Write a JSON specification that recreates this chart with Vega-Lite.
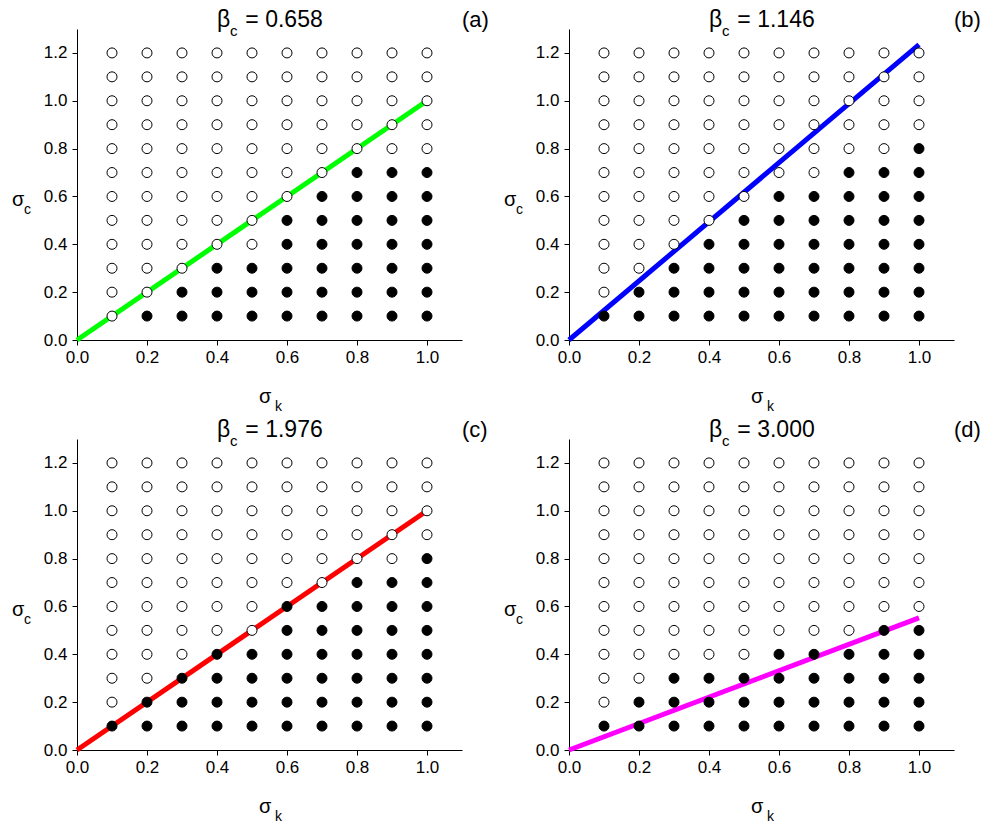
{
  "$schema": "https://vega.github.io/schema/vega-lite/v6.json",
  "autosize": {"type": "pad"},
  "padding": {"left": 12, "top": 9, "right": 5, "bottom": 3},
  "background": "white",
  "config": {
    "view": {"stroke": null},
    "font": "Liberation Sans",
    "header": {"labels": false, "title": null, "labelFontSize": 0, "labelPadding": 0, "titlePadding": 0, "labelExpr": "''"},
    "facet": {"spacing": 0},
    "axis": {
      "domainColor": "black", "domainWidth": 1,
      "tickColor": "black", "tickWidth": 1, "tickSize": 5,
      "labelColor": "black", "labelFont": "Liberation Sans", "labelFontSize": 17,
      "grid": false, "labelOverlap": false, "labelFlush": false
    },
    "text": {"font": "Liberation Sans", "color": "black"}
  },
  "data": {"values": [
    {"p":"a","k":0.1,"c":0.1,"s":0},{"p":"a","k":0.1,"c":0.2,"s":0},{"p":"a","k":0.1,"c":0.3,"s":0},{"p":"a","k":0.1,"c":0.4,"s":0},{"p":"a","k":0.1,"c":0.5,"s":0},{"p":"a","k":0.1,"c":0.6,"s":0},{"p":"a","k":0.1,"c":0.7,"s":0},{"p":"a","k":0.1,"c":0.8,"s":0},{"p":"a","k":0.1,"c":0.9,"s":0},{"p":"a","k":0.1,"c":1.0,"s":0},{"p":"a","k":0.1,"c":1.1,"s":0},{"p":"a","k":0.1,"c":1.2,"s":0},
    {"p":"a","k":0.2,"c":0.1,"s":1},{"p":"a","k":0.2,"c":0.2,"s":0},{"p":"a","k":0.2,"c":0.3,"s":0},{"p":"a","k":0.2,"c":0.4,"s":0},{"p":"a","k":0.2,"c":0.5,"s":0},{"p":"a","k":0.2,"c":0.6,"s":0},{"p":"a","k":0.2,"c":0.7,"s":0},{"p":"a","k":0.2,"c":0.8,"s":0},{"p":"a","k":0.2,"c":0.9,"s":0},{"p":"a","k":0.2,"c":1.0,"s":0},{"p":"a","k":0.2,"c":1.1,"s":0},{"p":"a","k":0.2,"c":1.2,"s":0},
    {"p":"a","k":0.3,"c":0.1,"s":1},{"p":"a","k":0.3,"c":0.2,"s":1},{"p":"a","k":0.3,"c":0.3,"s":0},{"p":"a","k":0.3,"c":0.4,"s":0},{"p":"a","k":0.3,"c":0.5,"s":0},{"p":"a","k":0.3,"c":0.6,"s":0},{"p":"a","k":0.3,"c":0.7,"s":0},{"p":"a","k":0.3,"c":0.8,"s":0},{"p":"a","k":0.3,"c":0.9,"s":0},{"p":"a","k":0.3,"c":1.0,"s":0},{"p":"a","k":0.3,"c":1.1,"s":0},{"p":"a","k":0.3,"c":1.2,"s":0},
    {"p":"a","k":0.4,"c":0.1,"s":1},{"p":"a","k":0.4,"c":0.2,"s":1},{"p":"a","k":0.4,"c":0.3,"s":1},{"p":"a","k":0.4,"c":0.4,"s":0},{"p":"a","k":0.4,"c":0.5,"s":0},{"p":"a","k":0.4,"c":0.6,"s":0},{"p":"a","k":0.4,"c":0.7,"s":0},{"p":"a","k":0.4,"c":0.8,"s":0},{"p":"a","k":0.4,"c":0.9,"s":0},{"p":"a","k":0.4,"c":1.0,"s":0},{"p":"a","k":0.4,"c":1.1,"s":0},{"p":"a","k":0.4,"c":1.2,"s":0},
    {"p":"a","k":0.5,"c":0.1,"s":1},{"p":"a","k":0.5,"c":0.2,"s":1},{"p":"a","k":0.5,"c":0.3,"s":1},{"p":"a","k":0.5,"c":0.4,"s":0},{"p":"a","k":0.5,"c":0.5,"s":0},{"p":"a","k":0.5,"c":0.6,"s":0},{"p":"a","k":0.5,"c":0.7,"s":0},{"p":"a","k":0.5,"c":0.8,"s":0},{"p":"a","k":0.5,"c":0.9,"s":0},{"p":"a","k":0.5,"c":1.0,"s":0},{"p":"a","k":0.5,"c":1.1,"s":0},{"p":"a","k":0.5,"c":1.2,"s":0},
    {"p":"a","k":0.6,"c":0.1,"s":1},{"p":"a","k":0.6,"c":0.2,"s":1},{"p":"a","k":0.6,"c":0.3,"s":1},{"p":"a","k":0.6,"c":0.4,"s":1},{"p":"a","k":0.6,"c":0.5,"s":1},{"p":"a","k":0.6,"c":0.6,"s":0},{"p":"a","k":0.6,"c":0.7,"s":0},{"p":"a","k":0.6,"c":0.8,"s":0},{"p":"a","k":0.6,"c":0.9,"s":0},{"p":"a","k":0.6,"c":1.0,"s":0},{"p":"a","k":0.6,"c":1.1,"s":0},{"p":"a","k":0.6,"c":1.2,"s":0},
    {"p":"a","k":0.7,"c":0.1,"s":1},{"p":"a","k":0.7,"c":0.2,"s":1},{"p":"a","k":0.7,"c":0.3,"s":1},{"p":"a","k":0.7,"c":0.4,"s":1},{"p":"a","k":0.7,"c":0.5,"s":1},{"p":"a","k":0.7,"c":0.6,"s":1},{"p":"a","k":0.7,"c":0.7,"s":0},{"p":"a","k":0.7,"c":0.8,"s":0},{"p":"a","k":0.7,"c":0.9,"s":0},{"p":"a","k":0.7,"c":1.0,"s":0},{"p":"a","k":0.7,"c":1.1,"s":0},{"p":"a","k":0.7,"c":1.2,"s":0},
    {"p":"a","k":0.8,"c":0.1,"s":1},{"p":"a","k":0.8,"c":0.2,"s":1},{"p":"a","k":0.8,"c":0.3,"s":1},{"p":"a","k":0.8,"c":0.4,"s":1},{"p":"a","k":0.8,"c":0.5,"s":1},{"p":"a","k":0.8,"c":0.6,"s":1},{"p":"a","k":0.8,"c":0.7,"s":1},{"p":"a","k":0.8,"c":0.8,"s":0},{"p":"a","k":0.8,"c":0.9,"s":0},{"p":"a","k":0.8,"c":1.0,"s":0},{"p":"a","k":0.8,"c":1.1,"s":0},{"p":"a","k":0.8,"c":1.2,"s":0},
    {"p":"a","k":0.9,"c":0.1,"s":1},{"p":"a","k":0.9,"c":0.2,"s":1},{"p":"a","k":0.9,"c":0.3,"s":1},{"p":"a","k":0.9,"c":0.4,"s":1},{"p":"a","k":0.9,"c":0.5,"s":1},{"p":"a","k":0.9,"c":0.6,"s":1},{"p":"a","k":0.9,"c":0.7,"s":1},{"p":"a","k":0.9,"c":0.8,"s":0},{"p":"a","k":0.9,"c":0.9,"s":0},{"p":"a","k":0.9,"c":1.0,"s":0},{"p":"a","k":0.9,"c":1.1,"s":0},{"p":"a","k":0.9,"c":1.2,"s":0},
    {"p":"a","k":1.0,"c":0.1,"s":1},{"p":"a","k":1.0,"c":0.2,"s":1},{"p":"a","k":1.0,"c":0.3,"s":1},{"p":"a","k":1.0,"c":0.4,"s":1},{"p":"a","k":1.0,"c":0.5,"s":1},{"p":"a","k":1.0,"c":0.6,"s":1},{"p":"a","k":1.0,"c":0.7,"s":1},{"p":"a","k":1.0,"c":0.8,"s":0},{"p":"a","k":1.0,"c":0.9,"s":0},{"p":"a","k":1.0,"c":1.0,"s":0},{"p":"a","k":1.0,"c":1.1,"s":0},{"p":"a","k":1.0,"c":1.2,"s":0},

    {"p":"b","k":0.1,"c":0.1,"s":1},{"p":"b","k":0.1,"c":0.2,"s":0},{"p":"b","k":0.1,"c":0.3,"s":0},{"p":"b","k":0.1,"c":0.4,"s":0},{"p":"b","k":0.1,"c":0.5,"s":0},{"p":"b","k":0.1,"c":0.6,"s":0},{"p":"b","k":0.1,"c":0.7,"s":0},{"p":"b","k":0.1,"c":0.8,"s":0},{"p":"b","k":0.1,"c":0.9,"s":0},{"p":"b","k":0.1,"c":1.0,"s":0},{"p":"b","k":0.1,"c":1.1,"s":0},{"p":"b","k":0.1,"c":1.2,"s":0},
    {"p":"b","k":0.2,"c":0.1,"s":1},{"p":"b","k":0.2,"c":0.2,"s":1},{"p":"b","k":0.2,"c":0.3,"s":0},{"p":"b","k":0.2,"c":0.4,"s":0},{"p":"b","k":0.2,"c":0.5,"s":0},{"p":"b","k":0.2,"c":0.6,"s":0},{"p":"b","k":0.2,"c":0.7,"s":0},{"p":"b","k":0.2,"c":0.8,"s":0},{"p":"b","k":0.2,"c":0.9,"s":0},{"p":"b","k":0.2,"c":1.0,"s":0},{"p":"b","k":0.2,"c":1.1,"s":0},{"p":"b","k":0.2,"c":1.2,"s":0},
    {"p":"b","k":0.3,"c":0.1,"s":1},{"p":"b","k":0.3,"c":0.2,"s":1},{"p":"b","k":0.3,"c":0.3,"s":1},{"p":"b","k":0.3,"c":0.4,"s":0},{"p":"b","k":0.3,"c":0.5,"s":0},{"p":"b","k":0.3,"c":0.6,"s":0},{"p":"b","k":0.3,"c":0.7,"s":0},{"p":"b","k":0.3,"c":0.8,"s":0},{"p":"b","k":0.3,"c":0.9,"s":0},{"p":"b","k":0.3,"c":1.0,"s":0},{"p":"b","k":0.3,"c":1.1,"s":0},{"p":"b","k":0.3,"c":1.2,"s":0},
    {"p":"b","k":0.4,"c":0.1,"s":1},{"p":"b","k":0.4,"c":0.2,"s":1},{"p":"b","k":0.4,"c":0.3,"s":1},{"p":"b","k":0.4,"c":0.4,"s":1},{"p":"b","k":0.4,"c":0.5,"s":0},{"p":"b","k":0.4,"c":0.6,"s":0},{"p":"b","k":0.4,"c":0.7,"s":0},{"p":"b","k":0.4,"c":0.8,"s":0},{"p":"b","k":0.4,"c":0.9,"s":0},{"p":"b","k":0.4,"c":1.0,"s":0},{"p":"b","k":0.4,"c":1.1,"s":0},{"p":"b","k":0.4,"c":1.2,"s":0},
    {"p":"b","k":0.5,"c":0.1,"s":1},{"p":"b","k":0.5,"c":0.2,"s":1},{"p":"b","k":0.5,"c":0.3,"s":1},{"p":"b","k":0.5,"c":0.4,"s":1},{"p":"b","k":0.5,"c":0.5,"s":1},{"p":"b","k":0.5,"c":0.6,"s":0},{"p":"b","k":0.5,"c":0.7,"s":0},{"p":"b","k":0.5,"c":0.8,"s":0},{"p":"b","k":0.5,"c":0.9,"s":0},{"p":"b","k":0.5,"c":1.0,"s":0},{"p":"b","k":0.5,"c":1.1,"s":0},{"p":"b","k":0.5,"c":1.2,"s":0},
    {"p":"b","k":0.6,"c":0.1,"s":1},{"p":"b","k":0.6,"c":0.2,"s":1},{"p":"b","k":0.6,"c":0.3,"s":1},{"p":"b","k":0.6,"c":0.4,"s":1},{"p":"b","k":0.6,"c":0.5,"s":1},{"p":"b","k":0.6,"c":0.6,"s":1},{"p":"b","k":0.6,"c":0.7,"s":0},{"p":"b","k":0.6,"c":0.8,"s":0},{"p":"b","k":0.6,"c":0.9,"s":0},{"p":"b","k":0.6,"c":1.0,"s":0},{"p":"b","k":0.6,"c":1.1,"s":0},{"p":"b","k":0.6,"c":1.2,"s":0},
    {"p":"b","k":0.7,"c":0.1,"s":1},{"p":"b","k":0.7,"c":0.2,"s":1},{"p":"b","k":0.7,"c":0.3,"s":1},{"p":"b","k":0.7,"c":0.4,"s":1},{"p":"b","k":0.7,"c":0.5,"s":1},{"p":"b","k":0.7,"c":0.6,"s":1},{"p":"b","k":0.7,"c":0.7,"s":0},{"p":"b","k":0.7,"c":0.8,"s":0},{"p":"b","k":0.7,"c":0.9,"s":0},{"p":"b","k":0.7,"c":1.0,"s":0},{"p":"b","k":0.7,"c":1.1,"s":0},{"p":"b","k":0.7,"c":1.2,"s":0},
    {"p":"b","k":0.8,"c":0.1,"s":1},{"p":"b","k":0.8,"c":0.2,"s":1},{"p":"b","k":0.8,"c":0.3,"s":1},{"p":"b","k":0.8,"c":0.4,"s":1},{"p":"b","k":0.8,"c":0.5,"s":1},{"p":"b","k":0.8,"c":0.6,"s":1},{"p":"b","k":0.8,"c":0.7,"s":1},{"p":"b","k":0.8,"c":0.8,"s":0},{"p":"b","k":0.8,"c":0.9,"s":0},{"p":"b","k":0.8,"c":1.0,"s":0},{"p":"b","k":0.8,"c":1.1,"s":0},{"p":"b","k":0.8,"c":1.2,"s":0},
    {"p":"b","k":0.9,"c":0.1,"s":1},{"p":"b","k":0.9,"c":0.2,"s":1},{"p":"b","k":0.9,"c":0.3,"s":1},{"p":"b","k":0.9,"c":0.4,"s":1},{"p":"b","k":0.9,"c":0.5,"s":1},{"p":"b","k":0.9,"c":0.6,"s":1},{"p":"b","k":0.9,"c":0.7,"s":1},{"p":"b","k":0.9,"c":0.8,"s":0},{"p":"b","k":0.9,"c":0.9,"s":0},{"p":"b","k":0.9,"c":1.0,"s":0},{"p":"b","k":0.9,"c":1.1,"s":0},{"p":"b","k":0.9,"c":1.2,"s":0},
    {"p":"b","k":1.0,"c":0.1,"s":1},{"p":"b","k":1.0,"c":0.2,"s":1},{"p":"b","k":1.0,"c":0.3,"s":1},{"p":"b","k":1.0,"c":0.4,"s":1},{"p":"b","k":1.0,"c":0.5,"s":1},{"p":"b","k":1.0,"c":0.6,"s":1},{"p":"b","k":1.0,"c":0.7,"s":1},{"p":"b","k":1.0,"c":0.8,"s":1},{"p":"b","k":1.0,"c":0.9,"s":0},{"p":"b","k":1.0,"c":1.0,"s":0},{"p":"b","k":1.0,"c":1.1,"s":0},{"p":"b","k":1.0,"c":1.2,"s":0},

    {"p":"c","k":0.1,"c":0.1,"s":1},{"p":"c","k":0.1,"c":0.2,"s":0},{"p":"c","k":0.1,"c":0.3,"s":0},{"p":"c","k":0.1,"c":0.4,"s":0},{"p":"c","k":0.1,"c":0.5,"s":0},{"p":"c","k":0.1,"c":0.6,"s":0},{"p":"c","k":0.1,"c":0.7,"s":0},{"p":"c","k":0.1,"c":0.8,"s":0},{"p":"c","k":0.1,"c":0.9,"s":0},{"p":"c","k":0.1,"c":1.0,"s":0},{"p":"c","k":0.1,"c":1.1,"s":0},{"p":"c","k":0.1,"c":1.2,"s":0},
    {"p":"c","k":0.2,"c":0.1,"s":1},{"p":"c","k":0.2,"c":0.2,"s":1},{"p":"c","k":0.2,"c":0.3,"s":0},{"p":"c","k":0.2,"c":0.4,"s":0},{"p":"c","k":0.2,"c":0.5,"s":0},{"p":"c","k":0.2,"c":0.6,"s":0},{"p":"c","k":0.2,"c":0.7,"s":0},{"p":"c","k":0.2,"c":0.8,"s":0},{"p":"c","k":0.2,"c":0.9,"s":0},{"p":"c","k":0.2,"c":1.0,"s":0},{"p":"c","k":0.2,"c":1.1,"s":0},{"p":"c","k":0.2,"c":1.2,"s":0},
    {"p":"c","k":0.3,"c":0.1,"s":1},{"p":"c","k":0.3,"c":0.2,"s":1},{"p":"c","k":0.3,"c":0.3,"s":1},{"p":"c","k":0.3,"c":0.4,"s":0},{"p":"c","k":0.3,"c":0.5,"s":0},{"p":"c","k":0.3,"c":0.6,"s":0},{"p":"c","k":0.3,"c":0.7,"s":0},{"p":"c","k":0.3,"c":0.8,"s":0},{"p":"c","k":0.3,"c":0.9,"s":0},{"p":"c","k":0.3,"c":1.0,"s":0},{"p":"c","k":0.3,"c":1.1,"s":0},{"p":"c","k":0.3,"c":1.2,"s":0},
    {"p":"c","k":0.4,"c":0.1,"s":1},{"p":"c","k":0.4,"c":0.2,"s":1},{"p":"c","k":0.4,"c":0.3,"s":1},{"p":"c","k":0.4,"c":0.4,"s":1},{"p":"c","k":0.4,"c":0.5,"s":0},{"p":"c","k":0.4,"c":0.6,"s":0},{"p":"c","k":0.4,"c":0.7,"s":0},{"p":"c","k":0.4,"c":0.8,"s":0},{"p":"c","k":0.4,"c":0.9,"s":0},{"p":"c","k":0.4,"c":1.0,"s":0},{"p":"c","k":0.4,"c":1.1,"s":0},{"p":"c","k":0.4,"c":1.2,"s":0},
    {"p":"c","k":0.5,"c":0.1,"s":1},{"p":"c","k":0.5,"c":0.2,"s":1},{"p":"c","k":0.5,"c":0.3,"s":1},{"p":"c","k":0.5,"c":0.4,"s":1},{"p":"c","k":0.5,"c":0.5,"s":0},{"p":"c","k":0.5,"c":0.6,"s":0},{"p":"c","k":0.5,"c":0.7,"s":0},{"p":"c","k":0.5,"c":0.8,"s":0},{"p":"c","k":0.5,"c":0.9,"s":0},{"p":"c","k":0.5,"c":1.0,"s":0},{"p":"c","k":0.5,"c":1.1,"s":0},{"p":"c","k":0.5,"c":1.2,"s":0},
    {"p":"c","k":0.6,"c":0.1,"s":1},{"p":"c","k":0.6,"c":0.2,"s":1},{"p":"c","k":0.6,"c":0.3,"s":1},{"p":"c","k":0.6,"c":0.4,"s":1},{"p":"c","k":0.6,"c":0.5,"s":1},{"p":"c","k":0.6,"c":0.6,"s":1},{"p":"c","k":0.6,"c":0.7,"s":0},{"p":"c","k":0.6,"c":0.8,"s":0},{"p":"c","k":0.6,"c":0.9,"s":0},{"p":"c","k":0.6,"c":1.0,"s":0},{"p":"c","k":0.6,"c":1.1,"s":0},{"p":"c","k":0.6,"c":1.2,"s":0},
    {"p":"c","k":0.7,"c":0.1,"s":1},{"p":"c","k":0.7,"c":0.2,"s":1},{"p":"c","k":0.7,"c":0.3,"s":1},{"p":"c","k":0.7,"c":0.4,"s":1},{"p":"c","k":0.7,"c":0.5,"s":1},{"p":"c","k":0.7,"c":0.6,"s":1},{"p":"c","k":0.7,"c":0.7,"s":0},{"p":"c","k":0.7,"c":0.8,"s":0},{"p":"c","k":0.7,"c":0.9,"s":0},{"p":"c","k":0.7,"c":1.0,"s":0},{"p":"c","k":0.7,"c":1.1,"s":0},{"p":"c","k":0.7,"c":1.2,"s":0},
    {"p":"c","k":0.8,"c":0.1,"s":1},{"p":"c","k":0.8,"c":0.2,"s":1},{"p":"c","k":0.8,"c":0.3,"s":1},{"p":"c","k":0.8,"c":0.4,"s":1},{"p":"c","k":0.8,"c":0.5,"s":1},{"p":"c","k":0.8,"c":0.6,"s":1},{"p":"c","k":0.8,"c":0.7,"s":1},{"p":"c","k":0.8,"c":0.8,"s":0},{"p":"c","k":0.8,"c":0.9,"s":0},{"p":"c","k":0.8,"c":1.0,"s":0},{"p":"c","k":0.8,"c":1.1,"s":0},{"p":"c","k":0.8,"c":1.2,"s":0},
    {"p":"c","k":0.9,"c":0.1,"s":1},{"p":"c","k":0.9,"c":0.2,"s":1},{"p":"c","k":0.9,"c":0.3,"s":1},{"p":"c","k":0.9,"c":0.4,"s":1},{"p":"c","k":0.9,"c":0.5,"s":1},{"p":"c","k":0.9,"c":0.6,"s":1},{"p":"c","k":0.9,"c":0.7,"s":1},{"p":"c","k":0.9,"c":0.8,"s":0},{"p":"c","k":0.9,"c":0.9,"s":0},{"p":"c","k":0.9,"c":1.0,"s":0},{"p":"c","k":0.9,"c":1.1,"s":0},{"p":"c","k":0.9,"c":1.2,"s":0},
    {"p":"c","k":1.0,"c":0.1,"s":1},{"p":"c","k":1.0,"c":0.2,"s":1},{"p":"c","k":1.0,"c":0.3,"s":1},{"p":"c","k":1.0,"c":0.4,"s":1},{"p":"c","k":1.0,"c":0.5,"s":1},{"p":"c","k":1.0,"c":0.6,"s":1},{"p":"c","k":1.0,"c":0.7,"s":1},{"p":"c","k":1.0,"c":0.8,"s":1},{"p":"c","k":1.0,"c":0.9,"s":0},{"p":"c","k":1.0,"c":1.0,"s":0},{"p":"c","k":1.0,"c":1.1,"s":0},{"p":"c","k":1.0,"c":1.2,"s":0},

    {"p":"d","k":0.1,"c":0.1,"s":1},{"p":"d","k":0.1,"c":0.2,"s":0},{"p":"d","k":0.1,"c":0.3,"s":0},{"p":"d","k":0.1,"c":0.4,"s":0},{"p":"d","k":0.1,"c":0.5,"s":0},{"p":"d","k":0.1,"c":0.6,"s":0},{"p":"d","k":0.1,"c":0.7,"s":0},{"p":"d","k":0.1,"c":0.8,"s":0},{"p":"d","k":0.1,"c":0.9,"s":0},{"p":"d","k":0.1,"c":1.0,"s":0},{"p":"d","k":0.1,"c":1.1,"s":0},{"p":"d","k":0.1,"c":1.2,"s":0},
    {"p":"d","k":0.2,"c":0.1,"s":1},{"p":"d","k":0.2,"c":0.2,"s":1},{"p":"d","k":0.2,"c":0.3,"s":0},{"p":"d","k":0.2,"c":0.4,"s":0},{"p":"d","k":0.2,"c":0.5,"s":0},{"p":"d","k":0.2,"c":0.6,"s":0},{"p":"d","k":0.2,"c":0.7,"s":0},{"p":"d","k":0.2,"c":0.8,"s":0},{"p":"d","k":0.2,"c":0.9,"s":0},{"p":"d","k":0.2,"c":1.0,"s":0},{"p":"d","k":0.2,"c":1.1,"s":0},{"p":"d","k":0.2,"c":1.2,"s":0},
    {"p":"d","k":0.3,"c":0.1,"s":1},{"p":"d","k":0.3,"c":0.2,"s":1},{"p":"d","k":0.3,"c":0.3,"s":1},{"p":"d","k":0.3,"c":0.4,"s":0},{"p":"d","k":0.3,"c":0.5,"s":0},{"p":"d","k":0.3,"c":0.6,"s":0},{"p":"d","k":0.3,"c":0.7,"s":0},{"p":"d","k":0.3,"c":0.8,"s":0},{"p":"d","k":0.3,"c":0.9,"s":0},{"p":"d","k":0.3,"c":1.0,"s":0},{"p":"d","k":0.3,"c":1.1,"s":0},{"p":"d","k":0.3,"c":1.2,"s":0},
    {"p":"d","k":0.4,"c":0.1,"s":1},{"p":"d","k":0.4,"c":0.2,"s":1},{"p":"d","k":0.4,"c":0.3,"s":1},{"p":"d","k":0.4,"c":0.4,"s":0},{"p":"d","k":0.4,"c":0.5,"s":0},{"p":"d","k":0.4,"c":0.6,"s":0},{"p":"d","k":0.4,"c":0.7,"s":0},{"p":"d","k":0.4,"c":0.8,"s":0},{"p":"d","k":0.4,"c":0.9,"s":0},{"p":"d","k":0.4,"c":1.0,"s":0},{"p":"d","k":0.4,"c":1.1,"s":0},{"p":"d","k":0.4,"c":1.2,"s":0},
    {"p":"d","k":0.5,"c":0.1,"s":1},{"p":"d","k":0.5,"c":0.2,"s":1},{"p":"d","k":0.5,"c":0.3,"s":1},{"p":"d","k":0.5,"c":0.4,"s":0},{"p":"d","k":0.5,"c":0.5,"s":0},{"p":"d","k":0.5,"c":0.6,"s":0},{"p":"d","k":0.5,"c":0.7,"s":0},{"p":"d","k":0.5,"c":0.8,"s":0},{"p":"d","k":0.5,"c":0.9,"s":0},{"p":"d","k":0.5,"c":1.0,"s":0},{"p":"d","k":0.5,"c":1.1,"s":0},{"p":"d","k":0.5,"c":1.2,"s":0},
    {"p":"d","k":0.6,"c":0.1,"s":1},{"p":"d","k":0.6,"c":0.2,"s":1},{"p":"d","k":0.6,"c":0.3,"s":1},{"p":"d","k":0.6,"c":0.4,"s":1},{"p":"d","k":0.6,"c":0.5,"s":0},{"p":"d","k":0.6,"c":0.6,"s":0},{"p":"d","k":0.6,"c":0.7,"s":0},{"p":"d","k":0.6,"c":0.8,"s":0},{"p":"d","k":0.6,"c":0.9,"s":0},{"p":"d","k":0.6,"c":1.0,"s":0},{"p":"d","k":0.6,"c":1.1,"s":0},{"p":"d","k":0.6,"c":1.2,"s":0},
    {"p":"d","k":0.7,"c":0.1,"s":1},{"p":"d","k":0.7,"c":0.2,"s":1},{"p":"d","k":0.7,"c":0.3,"s":1},{"p":"d","k":0.7,"c":0.4,"s":1},{"p":"d","k":0.7,"c":0.5,"s":0},{"p":"d","k":0.7,"c":0.6,"s":0},{"p":"d","k":0.7,"c":0.7,"s":0},{"p":"d","k":0.7,"c":0.8,"s":0},{"p":"d","k":0.7,"c":0.9,"s":0},{"p":"d","k":0.7,"c":1.0,"s":0},{"p":"d","k":0.7,"c":1.1,"s":0},{"p":"d","k":0.7,"c":1.2,"s":0},
    {"p":"d","k":0.8,"c":0.1,"s":1},{"p":"d","k":0.8,"c":0.2,"s":1},{"p":"d","k":0.8,"c":0.3,"s":1},{"p":"d","k":0.8,"c":0.4,"s":1},{"p":"d","k":0.8,"c":0.5,"s":0},{"p":"d","k":0.8,"c":0.6,"s":0},{"p":"d","k":0.8,"c":0.7,"s":0},{"p":"d","k":0.8,"c":0.8,"s":0},{"p":"d","k":0.8,"c":0.9,"s":0},{"p":"d","k":0.8,"c":1.0,"s":0},{"p":"d","k":0.8,"c":1.1,"s":0},{"p":"d","k":0.8,"c":1.2,"s":0},
    {"p":"d","k":0.9,"c":0.1,"s":1},{"p":"d","k":0.9,"c":0.2,"s":1},{"p":"d","k":0.9,"c":0.3,"s":1},{"p":"d","k":0.9,"c":0.4,"s":1},{"p":"d","k":0.9,"c":0.5,"s":1},{"p":"d","k":0.9,"c":0.6,"s":0},{"p":"d","k":0.9,"c":0.7,"s":0},{"p":"d","k":0.9,"c":0.8,"s":0},{"p":"d","k":0.9,"c":0.9,"s":0},{"p":"d","k":0.9,"c":1.0,"s":0},{"p":"d","k":0.9,"c":1.1,"s":0},{"p":"d","k":0.9,"c":1.2,"s":0},
    {"p":"d","k":1.0,"c":0.1,"s":1},{"p":"d","k":1.0,"c":0.2,"s":1},{"p":"d","k":1.0,"c":0.3,"s":1},{"p":"d","k":1.0,"c":0.4,"s":1},{"p":"d","k":1.0,"c":0.5,"s":1},{"p":"d","k":1.0,"c":0.6,"s":0},{"p":"d","k":1.0,"c":0.7,"s":0},{"p":"d","k":1.0,"c":0.8,"s":0},{"p":"d","k":1.0,"c":0.9,"s":0},{"p":"d","k":1.0,"c":1.0,"s":0},{"p":"d","k":1.0,"c":1.1,"s":0},{"p":"d","k":1.0,"c":1.2,"s":0},

    {"p":"a","k":0,"c":0,"ln":1},{"p":"a","k":1.0,"c":1.0,"ln":1},
    {"p":"b","k":0,"c":0,"ln":1},{"p":"b","k":1.0,"c":1.235,"ln":1},
    {"p":"c","k":0,"c":0,"ln":1},{"p":"c","k":1.0,"c":1.0,"ln":1},
    {"p":"d","k":0,"c":0,"ln":1},{"p":"d","k":1.0,"c":0.552,"ln":1},

    {"p":"a","eq":"= 0.658","tag":"(a)"},
    {"p":"b","eq":"= 1.146","tag":"(b)"},
    {"p":"c","eq":"= 1.976","tag":"(c)"},
    {"p":"d","eq":"= 3.000","tag":"(d)"}
  ]},
  "facet": {"field": "p", "type": "nominal", "header": {"title": null, "labels": false, "labelFontSize": 0, "labelPadding": 0}},
  "columns": 2,
  "spacing": {"row": 99, "column": 107},
  "bounds": "flush",
  "resolve": {"axis": {"x": "independent", "y": "independent"}},
  "spec": {
    "width": 385,
    "height": 311,
    "layer": [
      {
        "transform": [{"filter": "datum.ln == 1"}],
        "mark": {"type": "line", "strokeWidth": 5, "strokeCap": "butt"},
        "encoding": {
          "x": {"field": "k", "type": "quantitative", "scale": {"domain": [0, 1.1], "nice": false, "zero": false},
                "axis": {"title": null, "values": [0, 0.1, 0.2, 0.3, 0.4, 0.5, 0.6, 0.7, 0.8, 0.9, 1.0, 1.1], "format": ".1f",
                         "labelExpr": "round(datum.value * 10) % 2 == 0 ? datum.label : ''", "labelPadding": 4}},
          "y": {"field": "c", "type": "quantitative", "scale": {"domain": [0, 1.3], "nice": false, "zero": false},
                "axis": {"title": null, "values": [0, 0.1, 0.2, 0.3, 0.4, 0.5, 0.6, 0.7, 0.8, 0.9, 1.0, 1.1, 1.2, 1.3], "format": ".1f",
                         "labelExpr": "round(datum.value * 10) % 2 == 0 ? datum.label : ''", "labelPadding": 5}},
          "color": {"field": "p", "type": "nominal", "legend": null,
                    "scale": {"domain": ["a", "b", "c", "d"], "range": ["#00ff00", "#0000ff", "#ff0000", "#ff00ff"]}}
        }
      },
      {
        "transform": [{"filter": "isValid(datum.s)"}],
        "mark": {"type": "point", "shape": "circle", "filled": true, "size": 100, "stroke": "black", "strokeWidth": 1, "opacity": 1},
        "encoding": {
          "x": {"field": "k", "type": "quantitative"},
          "y": {"field": "c", "type": "quantitative"},
          "fill": {"field": "s", "type": "nominal", "legend": null,
                   "scale": {"domain": [0, 1], "range": ["white", "black"]}}
        }
      },
      {
        "transform": [{"filter": "isValid(datum.eq)"}],
        "mark": {"type": "text", "text": "β", "align": "left", "baseline": "alphabetic", "fontSize": 23, "dy": -2},
        "encoding": {"x": {"datum": 0.4, "type": "quantitative"}, "y": {"datum": 1.3, "type": "quantitative"}}
      },
      {
        "transform": [{"filter": "isValid(datum.eq)"}],
        "mark": {"type": "text", "text": "c", "align": "left", "baseline": "alphabetic", "fontSize": 15, "dy": 7},
        "encoding": {"x": {"datum": 0.437, "type": "quantitative"}, "y": {"datum": 1.3, "type": "quantitative"}}
      },
      {
        "transform": [{"filter": "isValid(datum.eq)"}],
        "mark": {"type": "text", "align": "left", "baseline": "alphabetic", "fontSize": 23, "dy": -2},
        "encoding": {"x": {"datum": 0.481, "type": "quantitative"}, "y": {"datum": 1.3, "type": "quantitative"},
                     "text": {"field": "eq"}}
      },
      {
        "transform": [{"filter": "isValid(datum.eq)"}],
        "mark": {"type": "text", "align": "left", "baseline": "alphabetic", "fontSize": 22, "dy": -2},
        "encoding": {"x": {"datum": 1.1, "type": "quantitative"}, "y": {"datum": 1.3, "type": "quantitative"},
                     "text": {"field": "tag"}}
      },
      {
        "transform": [{"filter": "isValid(datum.eq)"}],
        "mark": {"type": "text", "text": "σ", "align": "left", "baseline": "alphabetic", "fontSize": 20, "dy": 63},
        "encoding": {"x": {"datum": 0.52, "type": "quantitative"}, "y": {"datum": 0, "type": "quantitative"}}
      },
      {
        "transform": [{"filter": "isValid(datum.eq)"}],
        "mark": {"type": "text", "text": "k", "align": "left", "baseline": "alphabetic", "fontSize": 14, "dy": 71},
        "encoding": {"x": {"datum": 0.566, "type": "quantitative"}, "y": {"datum": 0, "type": "quantitative"}}
      },
      {
        "transform": [{"filter": "isValid(datum.eq)"}],
        "mark": {"type": "text", "text": "σ", "align": "left", "baseline": "alphabetic", "fontSize": 20, "dx": -65, "dy": 10},
        "encoding": {"x": {"datum": 0, "type": "quantitative"}, "y": {"datum": 0.6, "type": "quantitative"}}
      },
      {
        "transform": [{"filter": "isValid(datum.eq)"}],
        "mark": {"type": "text", "text": "c", "align": "left", "baseline": "alphabetic", "fontSize": 14, "dx": -53, "dy": 18},
        "encoding": {"x": {"datum": 0, "type": "quantitative"}, "y": {"datum": 0.6, "type": "quantitative"}}
      }
    ]
  }
}
